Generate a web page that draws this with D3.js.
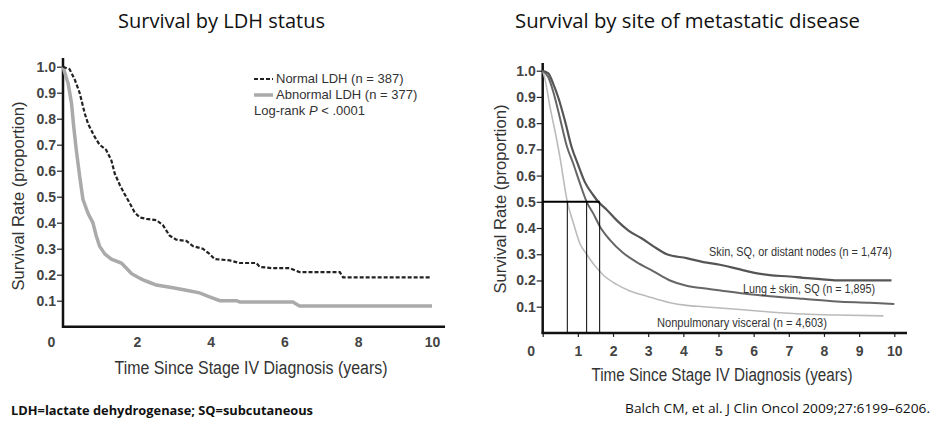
<!DOCTYPE html>
<html><head><meta charset="utf-8">
<script src="https://cdn.jsdelivr.net/npm/d3@7"></script>
<style>
body{margin:0;background:#fff;}
svg{display:block;}
</style></head>
<body><svg id="c" width="931" height="421"></svg>
<script>
// ---- data ----
const yTicks = [0.1,0.2,0.3,0.4,0.5,0.6,0.7,0.8,0.9,1.0];
const xTicksLeft = [0,2,4,6,8,10];
const xTicksRight = [0,1,2,3,4,5,6,7,8,9,10];

const normalLDH = [[0,1.0],[0.18,0.99],[0.32,0.95],[0.45,0.90],[0.59,0.82],[0.68,0.78],[0.86,0.73],[0.99,0.70],[1.17,0.68],[1.31,0.64],[1.40,0.59],[1.54,0.545],[1.67,0.51],[1.81,0.475],[1.94,0.44],[2.08,0.42],[2.26,0.415],[2.53,0.41],[2.71,0.39],[2.89,0.35],[3.07,0.335],[3.34,0.33],[3.52,0.31],[3.79,0.30],[3.97,0.28],[4.11,0.26],[4.52,0.255],[4.79,0.245],[5.24,0.245],[5.33,0.23],[5.69,0.225],[6.14,0.225],[6.41,0.21],[7.5,0.21],[7.59,0.19],[9.94,0.19]];
const abnormalLDH = [[0,1.0],[0.14,0.935],[0.23,0.86],[0.29,0.77],[0.36,0.68],[0.45,0.58],[0.54,0.49],[0.68,0.435],[0.81,0.40],[0.90,0.35],[0.99,0.31],[1.13,0.28],[1.31,0.26],[1.58,0.245],[1.72,0.225],[1.85,0.205],[2.03,0.19],[2.17,0.18],[2.35,0.17],[2.53,0.16],[2.98,0.15],[3.34,0.14],[3.70,0.13],[3.97,0.115],[4.25,0.10],[4.70,0.10],[4.79,0.095],[6.23,0.095],[6.41,0.08],[10.0,0.08]];

const skinSQ = [[0,1.0],[0.16,0.99],[0.30,0.95],[0.45,0.895],[0.64,0.805],[0.82,0.71],[1.01,0.64],[1.20,0.575],[1.44,0.525],[1.58,0.50],[1.82,0.47],[2.10,0.43],[2.44,0.39],[2.82,0.36],[3.15,0.33],[3.53,0.30],[4.09,0.285],[4.57,0.27],[5.04,0.26],[5.52,0.245],[5.99,0.23],[6.46,0.22],[7.03,0.215],[7.41,0.21],[7.89,0.205],[8.36,0.20],[9.12,0.20],[9.92,0.20]];
const lungSkin = [[0,1.0],[0.16,0.975],[0.30,0.92],[0.49,0.82],[0.68,0.715],[0.87,0.645],[1.06,0.57],[1.25,0.50],[1.44,0.455],[1.63,0.405],[1.91,0.355],[2.29,0.305],[2.67,0.27],[3.15,0.235],[3.62,0.20],[4.09,0.18],[4.57,0.17],[5.14,0.16],[5.71,0.15],[6.46,0.14],[7.41,0.13],[8.36,0.12],[9.31,0.115],[10.0,0.11]];
const nonpulm = [[0,1.0],[0.07,0.965],[0.21,0.86],[0.35,0.77],[0.49,0.67],[0.70,0.50],[0.87,0.42],[1.06,0.34],[1.25,0.30],[1.49,0.255],[1.73,0.22],[2.10,0.185],[2.48,0.16],[2.96,0.14],[3.62,0.115],[4.09,0.105],[4.57,0.10],[5.52,0.09],[6.46,0.08],[7.41,0.072],[8.36,0.068],[9.69,0.065]];

const medianTimes = [0.70, 1.25, 1.62];
const medianLevel = 0.5;

const leftLegend = ["Normal LDH (n = 387)", "Abnormal LDH (n = 377)"];
const rightLabels = ["Skin, SQ, or distant nodes (n = 1,474)", "Lung \u00b1 skin, SQ (n = 1,895)", "Nonpulmonary visceral (n = 4,603)"];
const titles = ["Survival by LDH status", "Survival by site of metastatic disease"];
const xTitle = "Time Since Stage IV Diagnosis (years)";
const yTitle = "Survival Rate (proportion)";
const footLeft = "LDH=lactate dehydrogenase; SQ=subcutaneous";
const footRight = "Balch CM, et al. J Clin Oncol 2009;27:6199\u20136206.";

// ---- drawing ----
const svg = d3.select("#c");
const CF = "'Liberation Sans Narrow','Liberation Sans',Arial,sans-serif";
const TF = "'Open Sans','Liberation Sans',sans-serif";

function fitText(sel, w){ return sel.attr("textLength", w).attr("lengthAdjust","spacingAndGlyphs"); }

function panel(cfg){
  const x = d3.scaleLinear().domain([0,10]).range(cfg.xr);
  const y = d3.scaleLinear().domain([0,1]).range(cfg.yr);
  const g = svg.append("g");
  const ya = g.append("g").attr("transform",`translate(${cfg.xr[0]},0)`)
    .call(d3.axisLeft(y).tickValues(yTicks).tickFormat(d3.format(".1f")).tickSize(6).tickSizeOuter(0));
  ya.select(".domain").remove();
  ya.selectAll(".tick line").attr("stroke","#222").attr("stroke-width",1.2);
  ya.selectAll(".tick text").attr("font-family",CF).attr("font-size",14).attr("font-weight","bold").attr("fill","#444").attr("x",-7);
  const xa = g.append("g").attr("transform",`translate(0,${cfg.yr[0]})`)
    .call(d3.axisBottom(x).tickValues(cfg.xt).tickSize(cfg.xtick).tickSizeOuter(0));
  xa.select(".domain").remove();
  xa.selectAll(".tick line").attr("stroke","#222").attr("stroke-width",1.2);
  xa.selectAll(".tick text").attr("font-family",CF).attr("font-size",14).attr("font-weight","bold").attr("fill","#444")
    .attr("y",cfg.xly).attr("dx",d=>d===0?-12:0);
  g.append("line").attr("x1",cfg.xr[0]).attr("x2",cfg.xr[0]).attr("y1",cfg.yr[0]+1).attr("y2",cfg.ytop).attr("stroke","#111").attr("stroke-width",2.5);
  g.append("line").attr("x1",cfg.xr[0]-1).attr("x2",cfg.xend).attr("y1",cfg.yr[0]).attr("y2",cfg.yr[0]).attr("stroke","#111").attr("stroke-width",2.5);
  fitText(g.append("text").attr("x",cfg.tx).attr("y",28).attr("text-anchor","middle").attr("font-family",TF).attr("font-size",20).attr("fill","#111").text(cfg.title), cfg.tw);
  fitText(g.append("text").attr("x",cfg.axtx).attr("y",cfg.axty).attr("text-anchor","middle").attr("font-family",CF).attr("font-size",18).attr("fill","#333").text(xTitle), cfg.axw);
  fitText(g.append("text").attr("transform",`translate(${cfg.aytx},${cfg.ayty}) rotate(-90)`).attr("text-anchor","middle").attr("font-family",CF).attr("font-size",17).attr("fill","#333").text(yTitle), 189);
  return {x,y,g};
}

// Left panel
const L = panel({xr:[63,432], yr:[326.7,66.7], xt:xTicksLeft, xtick:0, xly:10, ytop:58, xend:445,
  tx:221.5, tw:207, title:titles[0], axtx:251, axty:374, axw:273, aytx:24, ayty:196});
const lineL = d3.line().x(d=>L.x(d[0])).y(d=>L.y(d[1]));
L.g.append("path").datum(abnormalLDH).attr("d",lineL).attr("fill","none").attr("stroke","#aaa").attr("stroke-width",3.5);
L.g.append("path").datum(normalLDH).attr("d",lineL).attr("fill","none").attr("stroke","#222").attr("stroke-width",2.2).attr("stroke-dasharray","4,2");
// legend
L.g.append("line").attr("x1",254).attr("x2",273).attr("y1",79).attr("y2",79).attr("stroke","#222").attr("stroke-width",2.2).attr("stroke-dasharray","4,2");
L.g.append("line").attr("x1",254).attr("x2",273).attr("y1",95).attr("y2",95).attr("stroke","#aaa").attr("stroke-width",3.5);
L.g.append("text").attr("x",276).attr("y",83).attr("font-family",CF).attr("font-size",13).attr("fill","#333").text(leftLegend[0]);
L.g.append("text").attr("x",276).attr("y",99).attr("font-family",CF).attr("font-size",13).attr("fill","#333").text(leftLegend[1]);
const lr = L.g.append("text").attr("x",254).attr("y",115).attr("font-family",CF).attr("font-size",13).attr("fill","#333");
lr.append("tspan").text("Log-rank ");
lr.append("tspan").attr("font-style","italic").text("P");
lr.append("tspan").text(" < .0001");

// Right panel
const R = panel({xr:[542.7,894.3], yr:[332.9,70.7], xt:xTicksRight, xtick:4, xly:13, ytop:63, xend:907,
  tx:687.5, tw:345, title:titles[1], axtx:722, axty:381, axw:261, aytx:506, ayty:199});
const lineR = d3.line().x(d=>R.x(d[0])).y(d=>R.y(d[1])).curve(d3.curveMonotoneX);
R.g.append("path").datum(nonpulm).attr("d",lineR).attr("fill","none").attr("stroke","#bbb").attr("stroke-width",1.6);
R.g.append("path").datum(lungSkin).attr("d",lineR).attr("fill","none").attr("stroke","#666").attr("stroke-width",2);
R.g.append("path").datum(skinSQ).attr("d",lineR).attr("fill","none").attr("stroke","#555").attr("stroke-width",2.2);
R.g.append("line").attr("x1",R.x(0)).attr("x2",R.x(d3.max(medianTimes))).attr("y1",R.y(medianLevel)).attr("y2",R.y(medianLevel)).attr("stroke","#000").attr("stroke-width",2);
R.g.selectAll(".med").data(medianTimes).enter().append("line")
  .attr("x1",d=>R.x(d)).attr("x2",d=>R.x(d)).attr("y1",R.y(medianLevel)).attr("y2",R.y(0)).attr("stroke","#000").attr("stroke-width",1);
const labPos = [[709,256],[743,293],[657,327]];
const labW = [183,132,170];
rightLabels.forEach((t,i)=>{
  fitText(R.g.append("text").attr("x",labPos[i][0]).attr("y",labPos[i][1]).attr("font-family",CF).attr("font-size",12.5).attr("fill","#333").text(t), labW[i]);
});

// footers
fitText(svg.append("text").attr("x",11).attr("y",415).attr("font-family",TF).attr("font-size",12).attr("font-weight","bold").attr("fill","#111").text(footLeft), 302);
fitText(svg.append("text").attr("x",625).attr("y",413).attr("font-family",TF).attr("font-size",13).attr("fill","#111").text(footRight), 305);
</script></body></html>
